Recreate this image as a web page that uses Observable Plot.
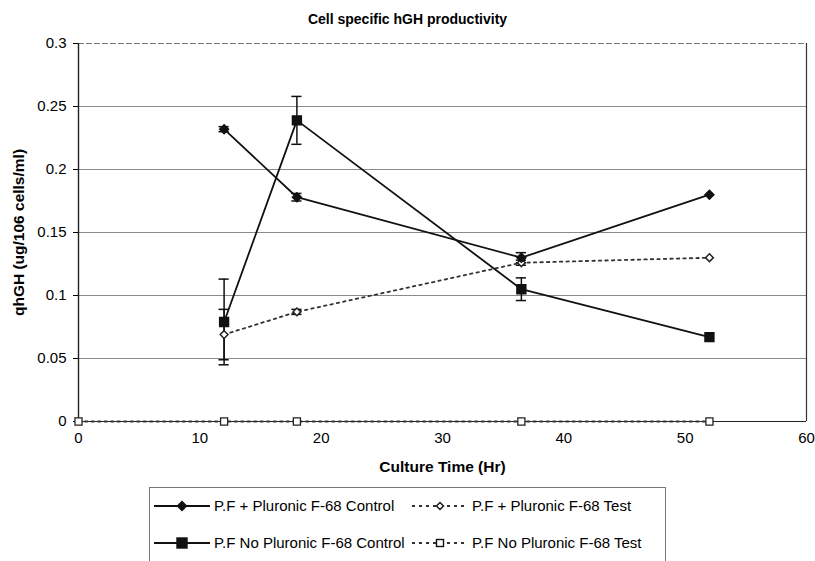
<!DOCTYPE html>
<html>
<head>
<meta charset="utf-8">
<script src="https://cdn.jsdelivr.net/npm/d3@7"></script>
<script src="https://cdn.jsdelivr.net/npm/@observablehq/plot@0.6"></script>
<style>
  body { margin: 0; background: #fff; font-family: "Liberation Sans", Arial, sans-serif; }
  #wrap { position: relative; width: 815px; height: 561px; overflow: hidden; }
  #title { position: absolute; left: 0; top: 11px; width: 815px; text-align: center; font-weight: bold; font-size: 14px; color: #000; }
  #chart { position: absolute; left: 0; top: 30px; }
  #chart svg [aria-label$="axis label"] text { font-weight: bold; font-size: 15.5px; }
  #chart svg [aria-label$="tick label"] text { font-size: 15px; }
  #legend { position: absolute; left: 149px; top: 487px; width: 517px; height: 90px; border: 1px solid #777; box-sizing: border-box; }
  #legend svg { position: absolute; left: 0; top: 0; }
</style>
</head>
<body>
<div id="wrap">
  <div id="title">Cell specific hGH productivity</div>
  <div id="chart"></div>
  <div id="legend"></div>
</div>
<script>
// ---- data ----
const hours = [12, 18, 36.5, 52];
const plusControl = [0.232, 0.178, 0.130, 0.180];
const plusControlErr = [0.002, 0.003, 0.004, 0];
const plusTest = [0.069, 0.087, 0.126, 0.130];
const plusTestErr = [0.020, 0.002, 0.002, 0];
const noControl = [0.079, 0.239, 0.105, 0.067];
const noControlErr = [0.034, 0.019, 0.009, 0];
const noTestHours = [0, 12, 18, 36.5, 52];
const noTest = [0, 0, 0, 0, 0];

const seriesNames = [
  "P.F + Pluronic F-68 Control",
  "P.F + Pluronic F-68 Test",
  "P.F No Pluronic F-68 Control",
  "P.F No Pluronic F-68 Test"
];
const xTicks = [0, 10, 20, 30, 40, 50, 60];
const yTicks = [0, 0.05, 0.1, 0.15, 0.2, 0.25, 0.3];
const yTickLabels = ["0", "0.05", "0.1", "0.15", "0.2", "0.25", "0.3"];
const gridLevels = [0.05, 0.1, 0.15, 0.2, 0.25];

// ---- tables ----
const mk = (xs, ys, es) => xs.map((x, i) => ({x, y: ys[i], e: es ? es[i] : 0}));
const pc = mk(hours, plusControl, plusControlErr);
const pt = mk(hours, plusTest, plusTestErr);
const nc = mk(hours, noControl, noControlErr);
const nt = mk(noTestHours, noTest);
const errs = [...pc, ...pt, ...nc].filter(d => d.e > 0);
const capW = 0.42;

const chart = Plot.plot({
  width: 815,
  height: 450,
  marginLeft: 78,
  marginRight: 9,
  marginTop: 13,
  marginBottom: 59,
  style: {fontFamily: "Liberation Sans, Arial, sans-serif", fontSize: "15px", color: "#000", background: "transparent"},
  x: {domain: [0, 60]},
  y: {domain: [0, 0.3]},
  marks: [
    Plot.ruleY(gridLevels, {stroke: "#8a8a8a", strokeWidth: 1.1}),
    Plot.ruleY([0.3], {stroke: "#777", strokeWidth: 1, strokeDasharray: "6,2"}),
    Plot.ruleX([60], {stroke: "#333", strokeWidth: 1.2}),
    Plot.ruleY([0], {stroke: "#222", strokeWidth: 1.2}),
    Plot.ruleX([0], {stroke: "#222", strokeWidth: 1.4}),
    Plot.axisY({ticks: yTicks, tickFormat: (d, i) => yTickLabels[i], tickSize: 5, tickPadding: 7,
      label: "qhGH (ug/106 cells/ml)", labelAnchor: "center", labelArrow: "none", labelOffset: 66}),
    Plot.axisX({ticks: xTicks, tickFormat: d => String(d), tickSize: 0, tickPadding: 11,
      label: "Culture Time (Hr)", labelAnchor: "center", labelArrow: "none", labelOffset: 50}),
    // error bars
    Plot.ruleX(errs, {x: "x", y1: d => d.y - d.e, y2: d => d.y + d.e, stroke: "#111", strokeWidth: 1.5}),
    Plot.ruleY(errs, {y: d => d.y - d.e, x1: d => d.x - capW, x2: d => d.x + capW, stroke: "#111", strokeWidth: 1.5}),
    Plot.ruleY(errs, {y: d => d.y + d.e, x1: d => d.x - capW, x2: d => d.x + capW, stroke: "#111", strokeWidth: 1.5}),
    // dotted test series
    Plot.line(nt, {x: "x", y: "y", stroke: "#333", strokeWidth: 1.8, strokeDasharray: "2.5,4"}),
    Plot.line(pt, {x: "x", y: "y", stroke: "#333", strokeWidth: 1.8, strokeDasharray: "2.5,4"}),
    // solid control series
    Plot.line(pc, {x: "x", y: "y", stroke: "#111", strokeWidth: 1.8}),
    Plot.line(nc, {x: "x", y: "y", stroke: "#111", strokeWidth: 1.8}),
    // markers
    Plot.dot(nt, {x: "x", y: "y", symbol: "square", r: 4, fill: "white", stroke: "#222", strokeWidth: 1.3}),
    Plot.dot(pt, {x: "x", y: "y", symbol: "diamond2", r: 3.5, fill: "white", stroke: "#222", strokeWidth: 1.5}),
    Plot.dot(pc, {x: "x", y: "y", symbol: "diamond2", r: 4, fill: "#111", stroke: "#111"}),
    Plot.dot(nc, {x: "x", y: "y", symbol: "square", r: 5, fill: "#111", stroke: "#111"})
  ]
});
document.getElementById("chart").appendChild(chart);

// ---- legend (HTML-side SVG) ----
const ns = "http://www.w3.org/2000/svg";
const lg = document.createElementNS(ns, "svg");
lg.setAttribute("width", 517); lg.setAttribute("height", 90);
const col1 = 4, col2 = 262, row1 = 18, row2 = 55;
const entries = [
  {name: seriesNames[0], cx: col1, cy: row1, dash: null, sym: "diamond", fill: "#111"},
  {name: seriesNames[1], cx: col2, cy: row1, dash: "3,4", sym: "diamond", fill: "white"},
  {name: seriesNames[2], cx: col1, cy: row2, dash: null, sym: "square", fill: "#111"},
  {name: seriesNames[3], cx: col2, cy: row2, dash: "3,4", sym: "square", fill: "white"}
];
for (const e of entries) {
  const ln = document.createElementNS(ns, "line");
  ln.setAttribute("x1", e.cx); ln.setAttribute("x2", e.cx + 56);
  ln.setAttribute("y1", e.cy); ln.setAttribute("y2", e.cy);
  ln.setAttribute("stroke", e.dash ? "#333" : "#111"); ln.setAttribute("stroke-width", 1.8);
  if (e.dash) ln.setAttribute("stroke-dasharray", e.dash);
  lg.appendChild(ln);
  const mx = e.cx + 28;
  let m;
  if (e.sym === "diamond") {
    m = document.createElementNS(ns, "path");
    const r = e.fill === "white" ? 3.5 : 4.5;
    m.setAttribute("d", `M${mx},${e.cy - r}L${mx + r},${e.cy}L${mx},${e.cy + r}L${mx - r},${e.cy}Z`);
  } else {
    m = document.createElementNS(ns, "rect");
    const s = e.fill === "white" ? 7 : 10;
    m.setAttribute("x", mx - s / 2); m.setAttribute("y", e.cy - s / 2);
    m.setAttribute("width", s); m.setAttribute("height", s);
  }
  m.setAttribute("fill", e.fill); m.setAttribute("stroke", "#111"); m.setAttribute("stroke-width", 1.4);
  lg.appendChild(m);
  const t = document.createElementNS(ns, "text");
  t.setAttribute("x", e.cx + 60); t.setAttribute("y", e.cy + 5);
  t.setAttribute("font-family", "Liberation Sans, Arial, sans-serif");
  t.setAttribute("font-size", "15"); t.setAttribute("fill", "#000");
  t.textContent = e.name;
  lg.appendChild(t);
}
document.getElementById("legend").appendChild(lg);
</script>
</body>
</html>
